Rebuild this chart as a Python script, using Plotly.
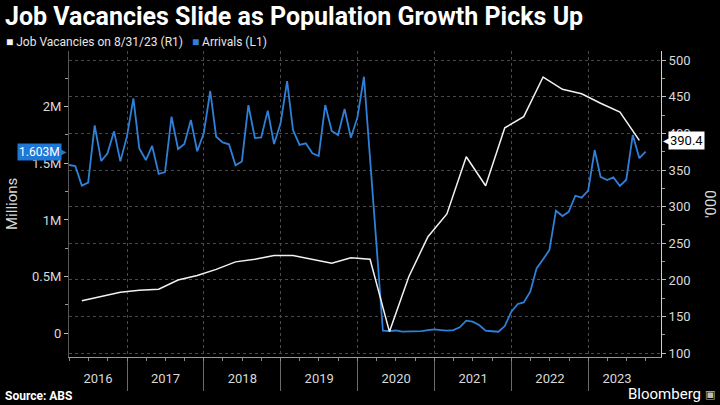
import pandas as pd
import plotly.graph_objects as go

# ---------------- data ----------------
arrivals_start = "2016-03-31"   # first monthly observation (month end)
arrivals_2016 = [1.485, 1.476, 1.303, 1.329, 1.835, 1.520, 1.588, 1.782, 1.517, 1.735]
arrivals_2017 = [2.073, 1.632, 1.529, 1.653, 1.406, 1.423, 1.911, 1.626, 1.670, 1.882, 1.606, 1.765]
arrivals_2018 = [2.138, 1.735, 1.685, 1.668, 1.482, 1.517, 2.014, 1.723, 1.729, 1.965, 1.670, 1.853]
arrivals_2019 = [2.226, 1.794, 1.662, 1.676, 1.588, 1.564, 2.014, 1.785, 1.750, 1.979, 1.726, 1.905]
arrivals_2020 = [2.264, 1.518, 0.770, 0.023, 0.020, 0.025, 0.015, 0.015, 0.015, 0.020, 0.029, 0.035]
arrivals_2021 = [0.029, 0.023, 0.029, 0.053, 0.111, 0.103, 0.073, 0.023, 0.018, 0.014, 0.064, 0.191]
arrivals_2022 = [0.259, 0.273, 0.367, 0.573, 0.653, 0.735, 1.082, 1.035, 1.073, 1.214, 1.197, 1.259]
arrivals_2023 = [1.617, 1.380, 1.352, 1.376, 1.300, 1.355, 1.750, 1.545, 1.603]

vacancies_start = "2016-05-31"  # first quarterly observation (Feb/May/Aug/Nov)
vacancies = [171.7, 177.2, 183.2, 186.0, 187.3, 200.0, 206.0, 214.5, 224.7, 228.4,
             233.3, 233.3, 228.2, 222.7, 230.4, 228.2, 129.5, 204.5, 259.0, 290.0,
             368.1, 328.5, 407.5, 422.7, 476.8, 460.0, 454.0, 441.0, 429.0, 390.4]

years = [2016, 2017, 2018, 2019, 2020, 2021, 2022, 2023]
left_ticks = [0, 0.5, 1, 1.5, 2]
left_ticktext = ["0", "0.5M", "1M", "1.5M", "2M"]
right_ticks = [100, 150, 200, 250, 300, 350, 400, 450, 500]

x_range = ["2016-03-31", "2023-12-12"]
left_range = [-0.209, 2.491]
right_range = [94.95, 512.3]

# ---------------- build ----------------
arrivals = (arrivals_2016 + arrivals_2017 + arrivals_2018 + arrivals_2019 +
            arrivals_2020 + arrivals_2021 + arrivals_2022 + arrivals_2023)
try:
    arr_dates = pd.date_range(arrivals_start, periods=len(arrivals), freq="ME")
    vac_dates = pd.date_range(vacancies_start, periods=len(vacancies), freq="3ME")
except Exception:
    arr_dates = pd.date_range(arrivals_start, periods=len(arrivals), freq="M")
    vac_dates = pd.date_range(vacancies_start, periods=len(vacancies), freq="3M")

BLUE = "#2f80d8"
WHITE = "#f2f2f2"
GRID = "#4a4a4a"
TXT = "#d9d9d9"
FONT = "Roboto"

# year label positions: middle of the part of each year covered by data
d0, d1 = arr_dates[0], arr_dates[-1]
label_pos = []
for yv in years:
    a = max(pd.Timestamp(f"{yv}-01-01"), d0)
    b = min(pd.Timestamp(f"{yv + 1}-01-01"), d1)
    label_pos.append(a + (b - a) / 2)

fig = go.Figure()
fig.add_trace(go.Scatter(x=arr_dates, y=arrivals, mode="lines", name="Arrivals (L1)",
                         line=dict(color=BLUE, width=1.8), yaxis="y", xaxis="x"))
fig.add_trace(go.Scatter(x=vac_dates, y=vacancies, mode="lines",
                         name="Job Vacancies on 8/31/23 (R1)",
                         line=dict(color=WHITE, width=1.5), yaxis="y2", xaxis="x"))
# invisible trace so the quarterly tick axis is drawn
fig.add_trace(go.Scatter(x=[arr_dates[0]], y=[arrivals[0]], mode="markers",
                         marker=dict(opacity=0), xaxis="x2", yaxis="y",
                         showlegend=False, hoverinfo="skip"))

fig.update_layout(
    width=720, height=405,
    paper_bgcolor="black", plot_bgcolor="black",
    margin=dict(l=69, r=59, t=51, b=48),
    showlegend=False,
    font=dict(family=FONT, color=TXT, size=12),
    xaxis=dict(
        type="date", range=x_range,
        tickmode="array", tickvals=label_pos, ticktext=[str(y) for y in years],
        ticks="", showgrid=False, zeroline=False, ticklabelstandoff=9,
        showline=True, linecolor="#9a9a9a", linewidth=1,
        tickfont=dict(size=13, color=TXT, family=FONT),
        minor=dict(tickmode="linear", tick0="2016-01-01", dtick="M12",
                   ticks="outside", ticklen=33, tickcolor="#6a6a6a", tickwidth=1,
                   showgrid=True, gridcolor=GRID, griddash="dot", gridwidth=1),
    ),
    xaxis2=dict(
        type="date", range=x_range, overlaying="x", anchor="y", side="bottom",
        tickmode="linear", tick0="2016-01-01", dtick="M3",
        ticks="outside", ticklen=3, tickcolor="#8a8a8a",
        showticklabels=False, showgrid=False, zeroline=False, showline=False,
    ),
    yaxis=dict(
        range=left_range, tickmode="array", tickvals=left_ticks, ticktext=left_ticktext,
        ticks="outside", ticklen=4, tickcolor="#bbbbbb",
        showgrid=False, zeroline=False, showline=True, linecolor="#555555",
        tickfont=dict(size=13, color=TXT, family=FONT),
        minor=dict(tickmode="linear", tick0=0, dtick=0.25, ticks="outside",
                   ticklen=3, tickcolor="#999999", showgrid=False),
    ),
    yaxis2=dict(
        range=right_range, overlaying="y", side="right", anchor="x",
        tickmode="array", tickvals=right_ticks,
        ticks="outside", ticklen=4, tickcolor="#bbbbbb",
        showgrid=True, gridcolor=GRID, griddash="dot", gridwidth=1,
        zeroline=False, showline=True, linecolor="#cfcfcf", linewidth=1,
        tickfont=dict(size=13, color=TXT, family=FONT),
        minor=dict(tickmode="linear", tick0=100, dtick=25, ticks="outside",
                   ticklen=3, tickcolor="#999999", showgrid=False),
    ),
)

ann = []
# title
ann.append(dict(text="<b>Job Vacancies Slide as Population Growth Picks Up</b>",
                xref="paper", yref="paper", x=-66 / 592, y=1 + 34 / 306,
                xanchor="left", yanchor="middle", showarrow=False,
                font=dict(family=FONT, size=25, color="white")))
# legend
ann.append(dict(text=(f"<span style='color:{WHITE}'>■</span> Job Vacancies on 8/31/23 (R1)"
                      f"   <span style='color:{BLUE}'>■</span> Arrivals (L1)"),
                xref="paper", yref="paper", x=-65 / 592, y=1 + 9 / 306,
                xanchor="left", yanchor="middle", showarrow=False,
                font=dict(family=FONT, size=12, color="#e6e6e6")))
# axis titles
ann.append(dict(text="Millions", xref="paper", yref="paper", x=-57 / 592, y=0.5,
                textangle=-90, showarrow=False, xanchor="center", yanchor="middle",
                font=dict(family=FONT, size=15, color=TXT)))
ann.append(dict(text="'000", xref="paper", yref="paper", x=1 + 50 / 592, y=0.5,
                textangle=-90, showarrow=False, xanchor="center", yanchor="middle",
                font=dict(family=FONT, size=15, color=TXT)))
# last value labels
last_arr = arrivals[-1]
last_vac = vacancies[-1]
ann.append(dict(text=f"{last_arr:.3f}M", xref="paper", yref="y", x=0, y=last_arr,
                xanchor="right", yanchor="middle", xshift=-7, showarrow=False,
                bgcolor="#1f78d6", borderpad=1,
                font=dict(family=FONT, size=12, color="white")))
ann.append(dict(text="▶", xref="paper", yref="y", x=0, y=last_arr,
                xanchor="right", yanchor="middle", xshift=0, showarrow=False,
                font=dict(family="DejaVu Sans", size=10, color="#1f78d6")))
ann.append(dict(text=f"{last_vac:.1f}", xref="paper", yref="y2", x=1, y=last_vac,
                xanchor="left", yanchor="middle", xshift=7, showarrow=False,
                bgcolor="white", borderpad=1,
                font=dict(family=FONT, size=13, color="black")))
ann.append(dict(text="◀", xref="paper", yref="y2", x=1, y=last_vac,
                xanchor="left", yanchor="middle", xshift=0, showarrow=False,
                font=dict(family="DejaVu Sans", size=10, color="white")))
# footer
ann.append(dict(text="<b>Source: ABS</b>", xref="paper", yref="paper",
                x=-66 / 592, y=-39 / 306, xanchor="left", yanchor="middle",
                showarrow=False, font=dict(family=FONT, size=12, color="white")))
ann.append(dict(text="Bloomberg", xref="paper", yref="paper",
                x=1 + 42 / 592, y=-37 / 306, xanchor="right", yanchor="middle",
                showarrow=False, font=dict(family=FONT, size=15, color="white")))
ann.append(dict(text="▣", xref="paper", yref="paper",
                x=1 + 56 / 592, y=-37 / 306, xanchor="right", yanchor="middle",
                showarrow=False, font=dict(family="DejaVu Sans", size=11, color="#bbbbbb")))
fig.update_layout(annotations=ann)

fig.write_html("out.html", config={"displayModeBar": False},
               post_script="document.body.style.margin='0px';document.body.style.overflow='hidden';")
